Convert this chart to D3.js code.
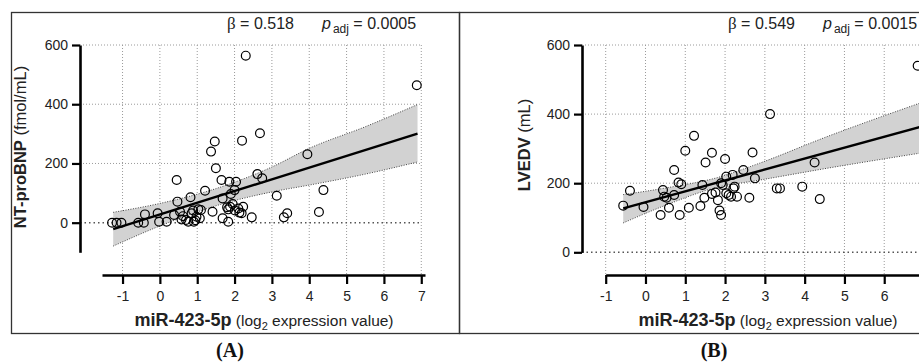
<!DOCTYPE html>
<html>
<head>
<meta charset="utf-8">
<script src="https://cdn.jsdelivr.net/npm/d3@7"></script>
<style>
  body { margin: 0; background: #fff; }
</style>
</head>
<body>
<div id="chart"></div>
<script>
// ticks
const xTicksA = [-1, 0, 1, 2, 3, 4, 5, 6, 7];
const xTicksB = [-1, 0, 1, 2, 3, 4, 5, 6];
const yTicks = [0, 200, 400, 600];

// panel A: miR-423-5p vs NT-proBNP
const mirA = [-1.28, -1.16, -1.03, -0.58, -0.43, -0.40, -0.06, -0.02, 0.18, 0.38,
  0.45, 0.47, 0.54, 0.58, 0.70, 0.76, 0.82, 0.85, 0.89, 0.91,
  0.98, 1.03, 1.07, 1.10, 1.21, 1.41, 1.37, 1.47, 1.50, 1.65,
  1.68, 1.68, 1.83, 1.86, 1.88, 1.83, 1.90, 1.95, 2.00, 2.04,
  2.01, 2.13, 2.19, 2.23, 2.20, 2.30, 2.46, 2.61, 2.68, 2.74,
  3.13, 3.32, 3.41, 3.95, 4.26, 4.38, 6.88, 0.62, 0.95, 1.80, 2.10];
const bnpA = [0, 0, 0, 0, 0, 28, 32, 3, 3, 26,
  144, 71, 37, 11, 9, 3, 86, 32, 41, 3,
  20, 45, 15, 43, 108, 37, 240, 274, 184, 144,
  15, 82, 3, 138, 54, 45, 97, 63, 110, 138,
  41, 34, 32, 54, 277, 564, 18, 164, 302, 150,
  91, 18, 32, 231, 36, 110, 464, 22, 8, 52, 48];
const fitA = [[-1.25, -22], [6.9, 301]];
const bandXA = [-1.25, 0, 1.5, 3, 4, 5.5, 6.9];
const bandLoA = [-79, -11, 57, 104, 127, 164, 205];
const bandHiA = [35, 65, 115, 188, 251, 324, 399];

// panel B: miR-423-5p vs LVEDV
const mirB = [-0.56, -0.39, -0.05, 0.38, 0.44, 0.47, 0.53, 0.59, 0.72, 0.72,
  0.83, 0.90, 0.86, 1.00, 1.09, 1.22, 1.38, 1.43, 1.48, 1.51,
  1.67, 1.67, 1.76, 1.82, 1.86, 1.90, 1.90, 1.94, 2.00, 2.03,
  2.03, 2.09, 2.15, 2.19, 2.21, 2.24, 2.30, 2.46, 2.61, 2.69,
  2.75, 3.13, 3.30, 3.38, 3.94, 4.25, 4.38, 6.84];
const lvB = [135, 178, 131, 108, 180, 161, 158, 129, 166, 238,
  202, 197, 108, 294, 129, 337, 134, 195, 158, 260,
  288, 169, 173, 151, 121, 108, 200, 195, 270, 219,
  171, 166, 161, 224, 185, 190, 161, 238, 158, 289,
  214, 400, 185, 185, 190, 260, 154, 540];
const fitB = [[-0.56, 127], [6.9, 363]];
const bandXB = [-0.56, 0.5, 1.8, 2.87, 4.5, 6.9];
const bandLoB = [85, 136, 188, 209, 242, 287];
const bandHiB = [167, 186, 216, 258, 332, 432];

const width = 919, height = 362;
const sans = '"Liberation Sans", Arial, sans-serif';
const serif = '"Liberation Serif", "Times New Roman", serif';

const svg = d3.select('#chart')
  .append('svg')
  .attr('width', width)
  .attr('height', height)
  .attr('font-family', sans);

// panel frames
svg.append('rect').attr('x', 11.5).attr('y', 12.5).attr('width', 448).attr('height', 321)
  .attr('fill', 'none').attr('stroke', '#333').attr('stroke-width', 1.3);
svg.append('rect').attr('x', 459.5).attr('y', 12.5).attr('width', 480).attr('height', 321)
  .attr('fill', 'none').attr('stroke', '#333').attr('stroke-width', 1.3);

function panel(o) {
  const g = svg.append('g');
  const x = d3.scaleLinear().domain(o.xDomain).range(o.xRange);
  const y = d3.scaleLinear().domain(o.yDomain).range([252.3, 45]);
  const xAxisY = 275;

  // grid
  g.append('g').selectAll('line').data(o.xTicks).join('line')
    .attr('x1', d => x(d)).attr('x2', d => x(d))
    .attr('y1', y(600)).attr('y2', xAxisY)
    .attr('stroke', '#9a9a9a').attr('stroke-width', 1).attr('stroke-dasharray', '1,2');
  g.append('g').selectAll('line').data(yTicks.filter(d => d !== 0)).join('line')
    .attr('x1', o.yAxisX).attr('x2', x(7))
    .attr('y1', d => y(d)).attr('y2', d => y(d))
    .attr('stroke', '#9a9a9a').attr('stroke-width', 1).attr('stroke-dasharray', '1,2');
  g.append('line')
    .attr('x1', o.yAxisX).attr('x2', x(7))
    .attr('y1', y(0)).attr('y2', y(0))
    .attr('stroke', '#555').attr('stroke-width', 1.5).attr('stroke-dasharray', '1.5,3');

  // confidence band
  const band = o.bandX.map((d, i) => ({x: d, lo: o.bandLo[i], hi: o.bandHi[i]}));
  g.append('path').datum(band)
    .attr('fill', '#d2d2d2')
    .attr('d', d3.area().curve(d3.curveMonotoneX)
      .x(d => x(d.x)).y0(d => y(d.lo)).y1(d => y(d.hi)));
  ['lo', 'hi'].forEach(k => {
    g.append('path').datum(band)
      .attr('fill', 'none').attr('stroke', '#444').attr('stroke-width', 1)
      .attr('stroke-dasharray', '1,1.5')
      .attr('d', d3.line().curve(d3.curveMonotoneX).x(d => x(d.x)).y(d => y(d[k])));
  });

  // regression line
  g.append('line')
    .attr('x1', x(o.fit[0][0])).attr('y1', y(o.fit[0][1]))
    .attr('x2', x(o.fit[1][0])).attr('y2', y(o.fit[1][1]))
    .attr('stroke', '#000').attr('stroke-width', 2.4);

  // points
  g.append('g').selectAll('circle').data(o.xs).join('circle')
    .attr('cx', d => x(d))
    .attr('cy', (d, i) => y(o.ys[i]))
    .attr('r', 4.4)
    .attr('fill', 'none')
    .attr('stroke', '#000')
    .attr('stroke-width', 1.2);

  // axes
  const ya = g.append('g')
    .attr('transform', `translate(${o.yAxisX},0)`)
    .call(d3.axisLeft(y).tickValues(yTicks).tickSize(8).tickSizeOuter(0).tickPadding(4)
      .tickFormat(d => String(d)));
  ya.select('.domain').attr('stroke-width', 2.6);
  ya.selectAll('.tick line').attr('stroke-width', 2.2);
  ya.selectAll('.tick text').attr('font-size', 14).attr('fill', '#222').attr('font-family', sans);

  const xa = g.append('g')
    .attr('transform', `translate(0,${xAxisY})`)
    .call(d3.axisBottom(x).tickValues(o.xTicks).tickSize(9).tickSizeOuter(0).tickPadding(7)
      .tickFormat(d => String(d)));
  xa.select('.domain').attr('stroke-width', 2.6);
  xa.selectAll('.tick line').attr('stroke-width', 2.2);
  xa.selectAll('.tick text').attr('font-size', 14).attr('fill', '#222').attr('font-family', sans);

  // x title
  const xt = g.append('text')
    .attr('x', o.xTitleX).attr('y', 326)
    .attr('text-anchor', 'middle').attr('fill', '#222');
  xt.append('tspan').attr('font-weight', 'bold').attr('font-size', 18).text('miR-423-5p');
  xt.append('tspan').attr('font-size', 15.5).text(' (log');
  xt.append('tspan').attr('font-size', 11).attr('dy', 4).text('2');
  xt.append('tspan').attr('font-size', 15.5).attr('dy', -4).text(' expression value)');

  // y title
  const yt = g.append('text')
    .attr('transform', `translate(${o.yTitleX},${o.yTitleY}) rotate(-90)`)
    .attr('text-anchor', 'middle').attr('fill', '#222');
  yt.append('tspan').attr('font-weight', 'bold').attr('font-size', 16.5).text(o.yBold);
  yt.append('tspan').attr('font-size', 16.5).text(o.yUnit);

  // stats
  const st = g.append('text').attr('x', o.statX).attr('y', 29).attr('fill', '#222').attr('font-size', 16);
  st.append('tspan').attr('font-family', serif).attr('font-size', 17).text('β');
  st.append('tspan').text(' = ' + o.beta);
  const st2 = g.append('text').attr('x', o.statX + 95).attr('y', 29).attr('fill', '#222').attr('font-size', 16);
  st2.append('tspan').attr('font-style', 'italic').text('p');
  st2.append('tspan').attr('font-size', 12).attr('dy', 4).attr('dx', 2).text('adj');
  st2.append('tspan').attr('dy', -4).text(' = ' + o.padj);

  // caption
  svg.append('text')
    .attr('x', o.capX).attr('y', 357)
    .attr('text-anchor', 'middle')
    .attr('font-family', serif)
    .attr('font-weight', 'bold').attr('font-size', 20).attr('fill', '#111')
    .text(o.cap);
}

panel({
  xs: mirA, ys: bnpA, fit: fitA, bandX: bandXA, bandLo: bandLoA, bandHi: bandHiA,
  xTicks: xTicksA, xDomain: [-1.55, 7.1], xRange: [102, 425], yDomain: [-100, 600], yAxisX: 80,
  xTitleX: 264, yTitleX: 26, yTitleY: 147, yBold: 'NT-proBNP', yUnit: ' (fmol/mL)',
  statX: 227, beta: '0.518', padj: '0.0005', capX: 230, cap: '(A)'
});

panel({
  xs: mirB, ys: lvB, fit: fitB, bandX: bandXB, bandLo: bandLoB, bandHi: bandHiB,
  xTicks: xTicksB, xDomain: [-1, 7.1], xRange: [605.7, 928], yDomain: [0, 600], yAxisX: 582,
  xTitleX: 768, yTitleX: 530, yTitleY: 145, yBold: 'LVEDV', yUnit: ' (mL)',
  statX: 728, beta: '0.549', padj: '0.0015', capX: 714, cap: '(B)'
});
</script>
</body>
</html>
